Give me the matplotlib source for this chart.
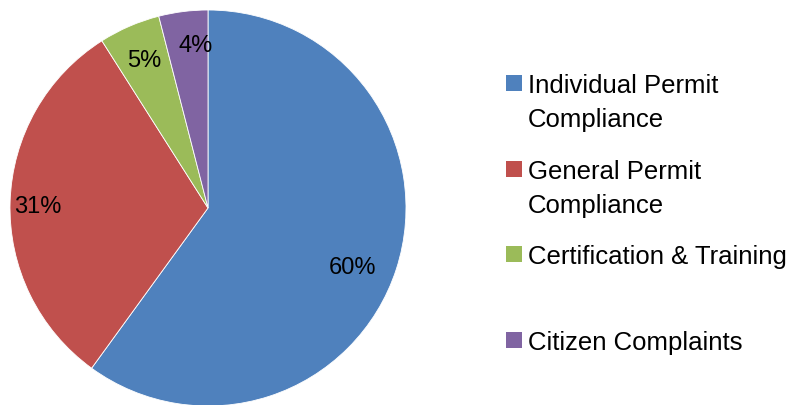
import matplotlib
matplotlib.use("Agg")
import matplotlib.pyplot as plt
import matplotlib.patches as mpatches
import numpy as np

categories = ["Individual Permit\nCompliance", "General Permit\nCompliance",
              "Certification & Training", "Citizen Complaints"]
values = [60, 31, 5, 4]
colors = ["#4F81BD", "#C0504D", "#9BBB59", "#8064A2"]
label_dist = [0.79, 0.86, 0.81, 0.82]
label_ang_shift = [-4.6, 1.5, 0.0, -3.0]

plt.rcParams['font.family'] = ['Liberation Sans', 'DejaVu Sans']

W, H = 792, 405
fig = plt.figure(figsize=(W / 100, H / 100), dpi=100)
cx, cy, r = 208, 208, 198
ax = fig.add_axes([(cx - r) / W, (H - cy - r) / H, 2 * r / W, 2 * r / H])
wedges, texts, autotexts = ax.pie(values, colors=colors, startangle=90, counterclock=False,
                                  autopct='%1.0f%%', pctdistance=0.8,
                                  wedgeprops=dict(edgecolor='white', linewidth=0.6),
                                  textprops=dict(fontsize=17, color='black'))
for w, t, d, da in zip(wedges, autotexts, label_dist, label_ang_shift):
    mid = np.deg2rad((w.theta1 + w.theta2) / 2 + da)
    t.set_position((d * np.cos(mid), d * np.sin(mid)))
ax.set_xlim(-1, 1)
ax.set_ylim(-1, 1)
ax.set_aspect('auto')
ax.axis('off')

# legend drawn manually
sq_y = [83, 169, 254, 340]
for lab, col, y in zip(categories, colors, sq_y):
    fig.patches.append(mpatches.Rectangle((505.5 / W, (H - y - 8) / H), 16 / W, 16 / H,
                                          transform=fig.transFigure, facecolor=col,
                                          edgecolor='none'))
    fig.text(528 / W, (H - y) / H + 9 / H, lab, fontsize=18.5, va='top', ha='left',
             linespacing=1.5)

fig.savefig("out.png", dpi=100)
